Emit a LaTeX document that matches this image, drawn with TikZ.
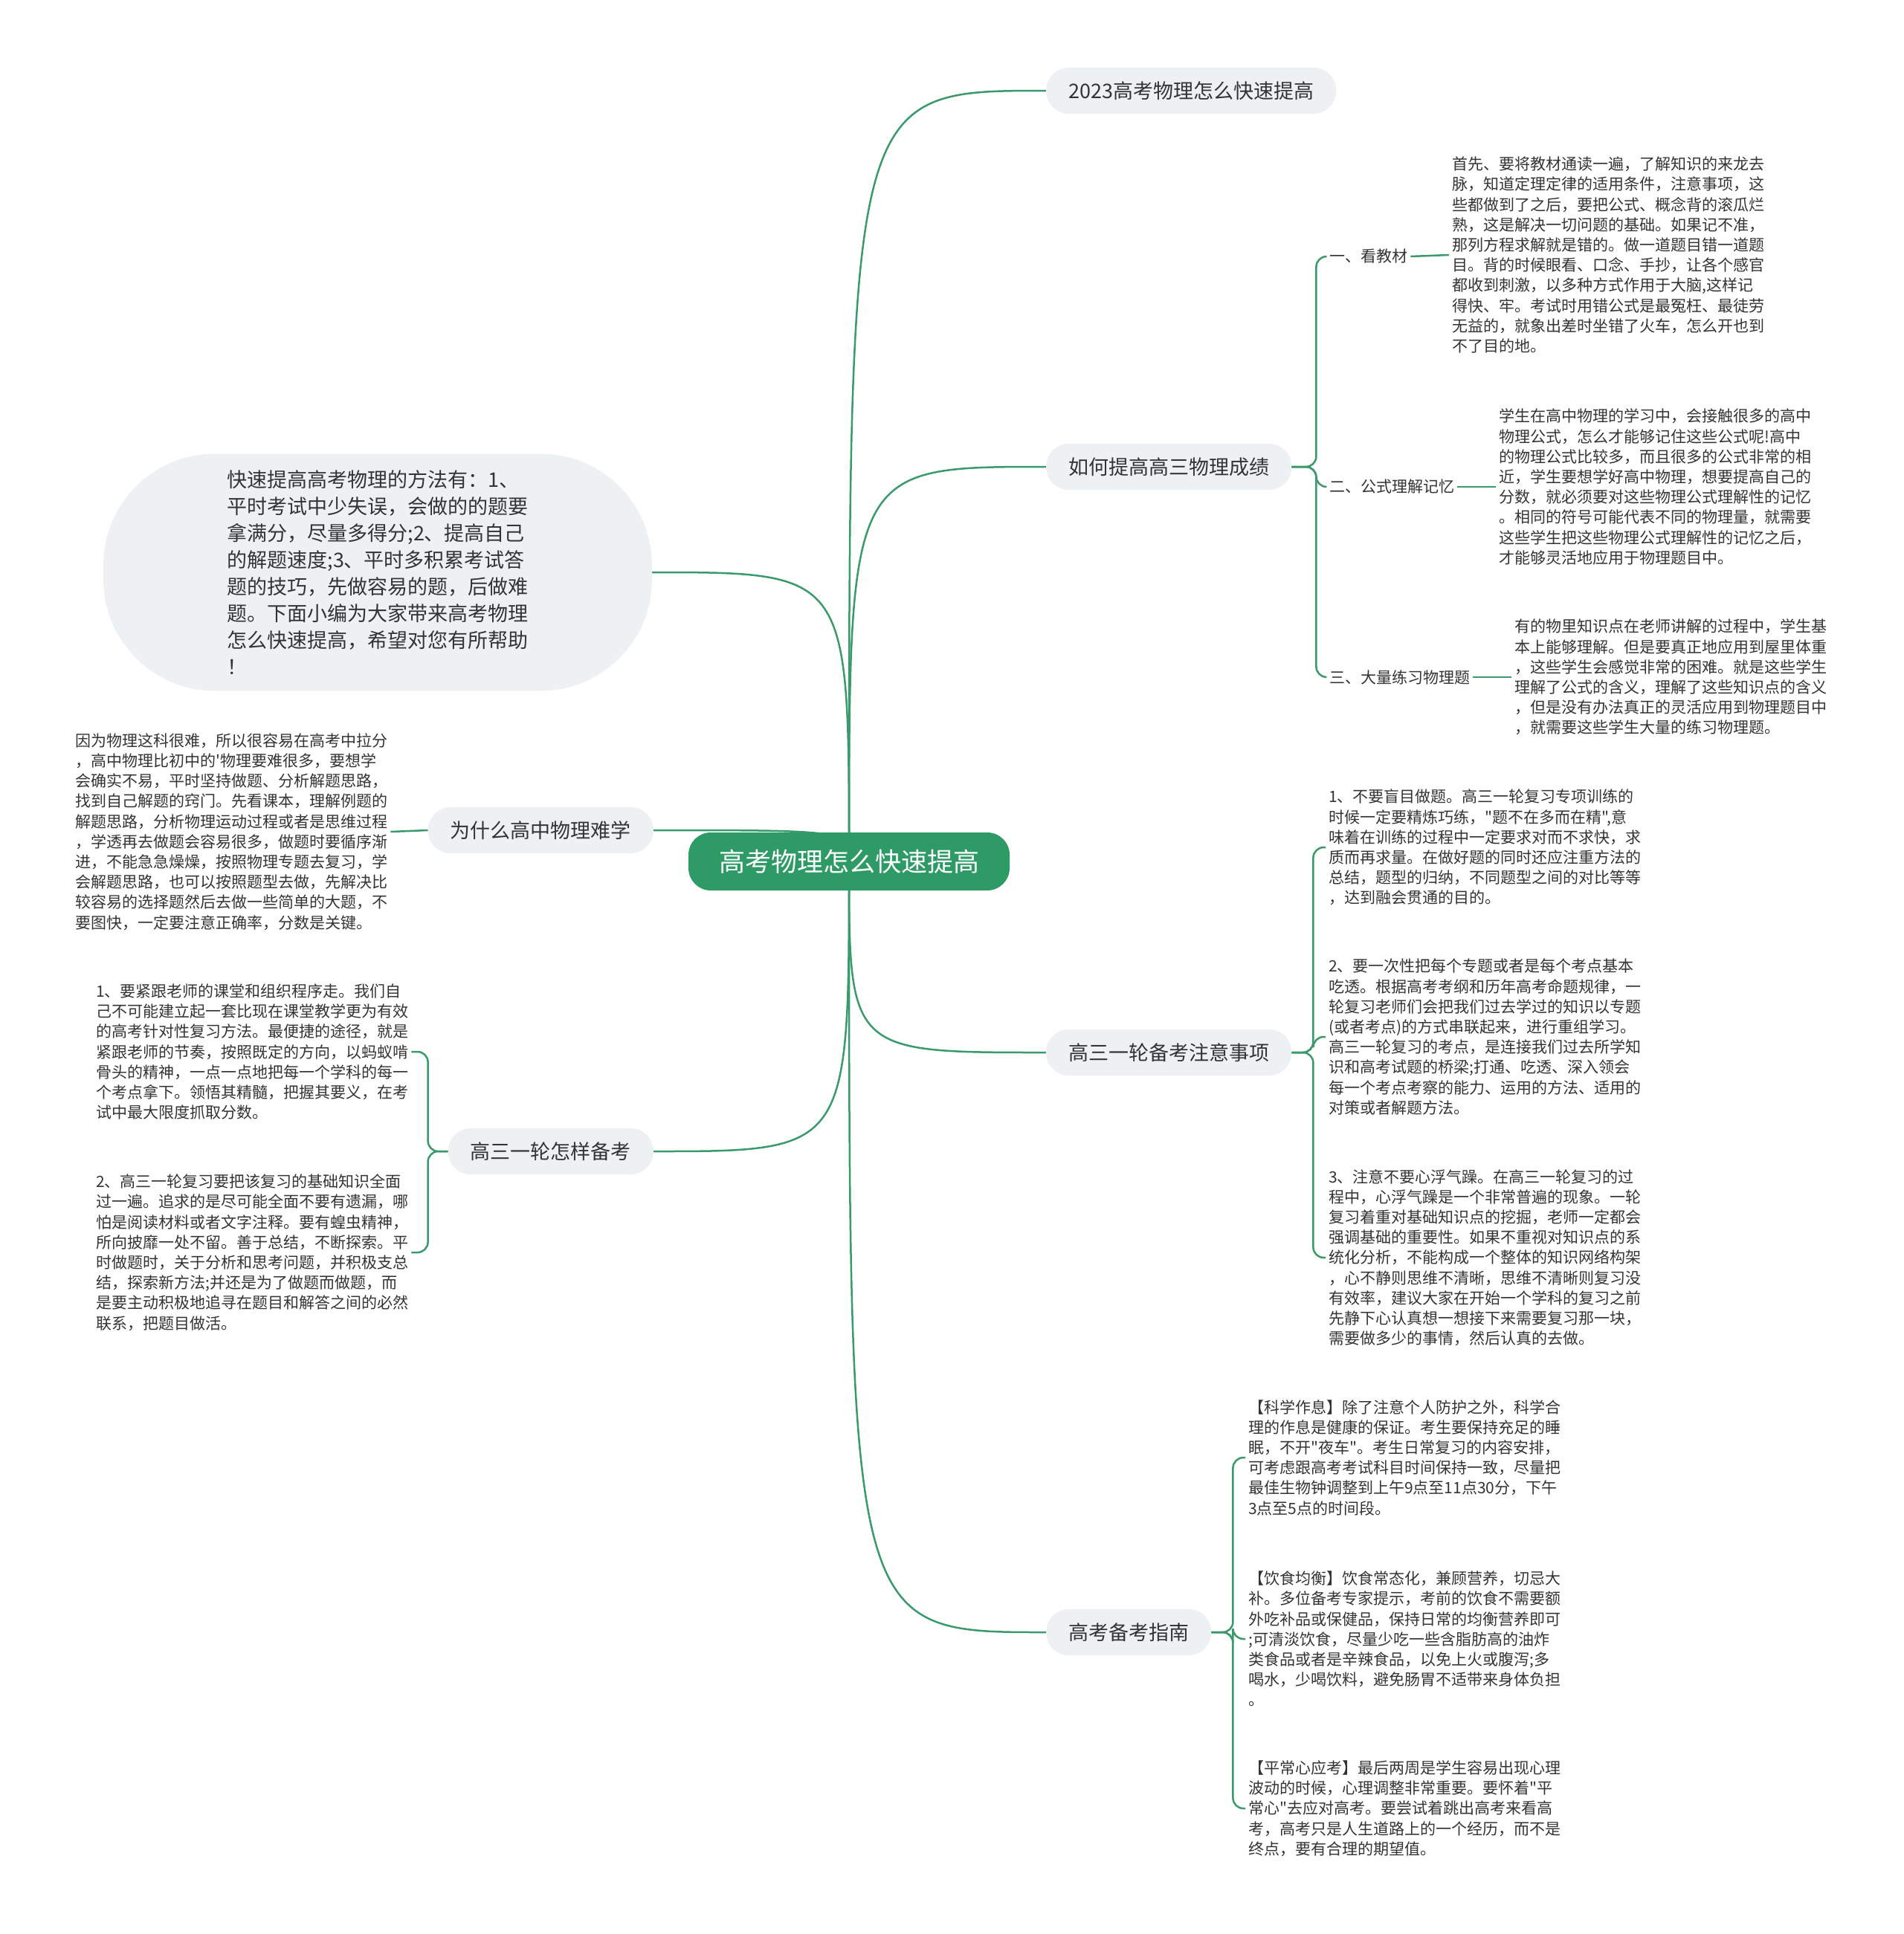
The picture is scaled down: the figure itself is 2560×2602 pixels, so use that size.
\documentclass[tikz,border=0pt]{standalone}
\usepackage{fontspec}
\setmainfont{Noto Sans CJK SC}[Ligatures=TeXOff]
\usetikzlibrary{backgrounds}

\definecolor{mapgreen}{HTML}{2E9B67}
\definecolor{linkgreen}{HTML}{3A9A6C}
\definecolor{bubblegray}{HTML}{EEF1F4}
\definecolor{inkgray}{HTML}{333333}

\tikzset{
  rootnode/.style={fill=mapgreen, text=white, rounded corners=30pt, minimum height=78pt, inner xsep=41pt, font=\fontsize{35}{40}\selectfont},
  topic/.style={fill=bubblegray, text=inkgray, rounded corners=30pt, minimum height=62pt, inner xsep=30pt, font=\fontsize{27}{34}\selectfont},
  subtopic/.style={text=inkgray, inner sep=4pt, font=\fontsize{21}{27}\selectfont},
  note/.style={text=inkgray, align=left, inner sep=4pt, font=\fontsize{21}{27.2}\selectfont},
  link/.style={draw=linkgreen, line width=2.5pt},
}

\begin{document}
\begin{tikzpicture}[x=1pt, y=-1pt]
    \useasboundingbox (0,0) rectangle (2560,2602);

    % Centre
    \node[rootnode] (root) at (1142,1159) {高考物理怎么快速提高};

    % Right topics
    \node[topic, anchor=west] (t1) at (1407,122) {2023高考物理怎么快速提高};
    \node[topic, anchor=west] (t2) at (1407,628) {如何提高高三物理成绩};
    \node[topic, anchor=west] (t3) at (1407,1416) {高三一轮备考注意事项};
    \node[topic, anchor=west] (t4) at (1407,2196) {高考备考指南};

    % Left topics
    \node[topic, rounded corners=150pt, minimum width=738pt, minimum height=319pt, align=left, font=\fontsize{27}{36}\selectfont] (intro) at (508,770) {快速提高高考物理的方法有：1、\\平时考试中少失误，会做的的题要\\拿满分，尽量多得分;2、提高自己\\的解题速度;3、平时多积累考试答\\题的技巧，先做容易的题，后做难\\题。下面小编为大家带来高考物理\\怎么快速提高，希望对您有所帮助\\！};
    \node[topic, anchor=east] (t6) at (879,1117) {为什么高中物理难学};
    \node[topic, anchor=east] (t7) at (879,1549) {高三一轮怎样备考};

    % 如何提高高三物理成绩
    \node[subtopic, anchor=west] (s1) at (1784,345) {一、看教材};
    \node[subtopic, anchor=west] (s2) at (1784,655) {二、公式理解记忆};
    \node[subtopic, anchor=west] (s3) at (1784,911) {三、大量练习物理题};
    \node[note, anchor=west] (a1) at (1949,343) {首先、要将教材通读一遍，了解知识的来龙去\\脉，知道定理定律的适用条件，注意事项，这\\些都做到了之后，要把公式、概念背的滚瓜烂\\熟，这是解决一切问题的基础。如果记不准，\\那列方程求解就是错的。做一道题目错一道题\\目。背的时候眼看、口念、手抄，让各个感官\\都收到刺激，以多种方式作用于大脑,这样记\\得快、牢。考试时用错公式是最冤枉、最徒劳\\无益的，就象出差时坐错了火车，怎么开也到\\不了目的地。};
    \node[note, anchor=west] (a2) at (2012,655) {学生在高中物理的学习中，会接触很多的高中\\物理公式，怎么才能够记住这些公式呢!高中\\的物理公式比较多，而且很多的公式非常的相\\近，学生要想学好高中物理，想要提高自己的\\分数，就必须要对这些物理公式理解性的记忆\\。相同的符号可能代表不同的物理量，就需要\\这些学生把这些物理公式理解性的记忆之后，\\才能够灵活地应用于物理题目中。};
    \node[note, anchor=west] (a3) at (2033,911) {有的物里知识点在老师讲解的过程中，学生基\\本上能够理解。但是要真正地应用到屋里体重\\，这些学生会感觉非常的困难。就是这些学生\\理解了公式的含义，理解了这些知识点的含义\\，但是没有办法真正的灵活应用到物理题目中\\，就需要这些学生大量的练习物理题。};

    % 高三一轮备考注意事项
    \node[note, anchor=west] (d1) at (1783,1140) {1、不要盲目做题。高三一轮复习专项训练的\\时候一定要精炼巧练，"题不在多而在精",意\\味着在训练的过程中一定要求对而不求快，求\\质而再求量。在做好题的同时还应注重方法的\\总结，题型的归纳，不同题型之间的对比等等\\，达到融会贯通的目的。};
    \node[note, anchor=west] (d2) at (1783,1395) {2、要一次性把每个专题或者是每个考点基本\\吃透。根据高考考纲和历年高考命题规律，一\\轮复习老师们会把我们过去学过的知识以专题\\(或者考点)的方式串联起来，进行重组学习。\\高三一轮复习的考点，是连接我们过去所学知\\识和高考试题的桥梁;打通、吃透、深入领会\\每一个考点考察的能力、运用的方法、适用的\\对策或者解题方法。};
    \node[note, anchor=west] (d3) at (1783,1692) {3、注意不要心浮气躁。在高三一轮复习的过\\程中，心浮气躁是一个非常普遍的现象。一轮\\复习着重对基础知识点的挖掘，老师一定都会\\强调基础的重要性。如果不重视对知识点的系\\统化分析，不能构成一个整体的知识网络构架\\，心不静则思维不清晰，思维不清晰则复习没\\有效率，建议大家在开始一个学科的复习之前\\先静下心认真想一想接下来需要复习那一块，\\需要做多少的事情，然后认真的去做。};

    % 高考备考指南
    \node[note, anchor=west] (e1) at (1675,1961) {【科学作息】除了注意个人防护之外，科学合\\理的作息是健康的保证。考生要保持充足的睡\\眠，不开"夜车"。考生日常复习的内容安排，\\可考虑跟高考考试科目时间保持一致，尽量把\\最佳生物钟调整到上午9点至11点30分，下午\\3点至5点的时间段。};
    \node[note, anchor=west] (e2) at (1675,2205) {【饮食均衡】饮食常态化，兼顾营养，切忌大\\补。多位备考专家提示，考前的饮食不需要额\\外吃补品或保健品，保持日常的均衡营养即可\\;可清淡饮食，尽量少吃一些含脂肪高的油炸\\类食品或者是辛辣食品，以免上火或腹泻;多\\喝水，少喝饮料，避免肠胃不适带来身体负担\\。};
    \node[note, anchor=west] (e3) at (1675,2433) {【平常心应考】最后两周是学生容易出现心理\\波动的时候，心理调整非常重要。要怀着"平\\常心"去应对高考。要尝试着跳出高考来看高\\考，高考只是人生道路上的一个经历，而不是\\终点，要有合理的期望值。};

    % Left notes
    \node[note, anchor=west] (f1) at (97,1119) {因为物理这科很难，所以很容易在高考中拉分\\，高中物理比初中的'物理要难很多，要想学\\会确实不易，平时坚持做题、分析解题思路，\\找到自己解题的窍门。先看课本，理解例题的\\解题思路，分析物理运动过程或者是思维过程\\，学透再去做题会容易很多，做题时要循序渐\\进，不能急急燥燥，按照物理专题去复习，学\\会解题思路，也可以按照题型去做，先解决比\\较容易的选择题然后去做一些简单的大题，不\\要图快，一定要注意正确率，分数是关键。};
    \node[note, anchor=west] (g1) at (125,1415) {1、要紧跟老师的课堂和组织程序走。我们自\\己不可能建立起一套比现在课堂教学更为有效\\的高考针对性复习方法。最便捷的途径，就是\\紧跟老师的节奏，按照既定的方向，以蚂蚁啃\\骨头的精神，一点一点地把每一个学科的每一\\个考点拿下。领悟其精髓，把握其要义，在考\\试中最大限度抓取分数。};
    \node[note, anchor=west] (g2) at (125,1685) {2、高三一轮复习要把该复习的基础知识全面\\过一遍。追求的是尽可能全面不要有遗漏，哪\\怕是阅读材料或者文字注释。要有蝗虫精神，\\所向披靡一处不留。善于总结，不断探索。平\\时做题时，关于分析和思考问题，并积极支总\\结，探索新方法;并还是为了做题而做题，而\\是要主动积极地追寻在题目和解答之间的必然\\联系，把题目做活。};

    % Forks
    \coordinate (fork2) at ([xshift=33pt]t2.east);
    \coordinate (fork3) at ([xshift=29pt]t3.east);
    \coordinate (fork4) at ([xshift=29pt]t4.east);
    \coordinate (fork7) at ([xshift=-27pt]t7.west);

    \begin{scope}[on background layer]
        % Root links
        \foreach \t in {t1,t2,t3,t4}
            \draw[link] (root.center) .. controls (root.center |- \t.west) .. (\t.west);
        \foreach \t in {intro,t6,t7}
            \draw[link] (root.center) .. controls (root.center |- \t.east) .. (\t.east);

        % Branch links
        \foreach \s in {s1,s2,s3}
            \draw[link, rounded corners=14pt] (t2.east) -- (fork2) |- (\s.west);
        \draw[link] (s1.east) -- (a1.west);
        \draw[link] (s2.east) -- (a2.west);
        \draw[link] (s3.east) -- (a3.west);
        \foreach \d in {d1,d2,d3}
            \draw[link, rounded corners=14pt] (t3.east) -- (fork3) |- (\d.west);
        \foreach \e in {e1,e2,e3}
            \draw[link, rounded corners=14pt] (t4.east) -- (fork4) |- (\e.west);
        \draw[link] (t6.west) -- (f1.east);
        \foreach \g in {g1,g2}
            \draw[link, rounded corners=14pt] (t7.west) -- (fork7) |- (\g.east);
    \end{scope}
\end{tikzpicture}
\end{document}
